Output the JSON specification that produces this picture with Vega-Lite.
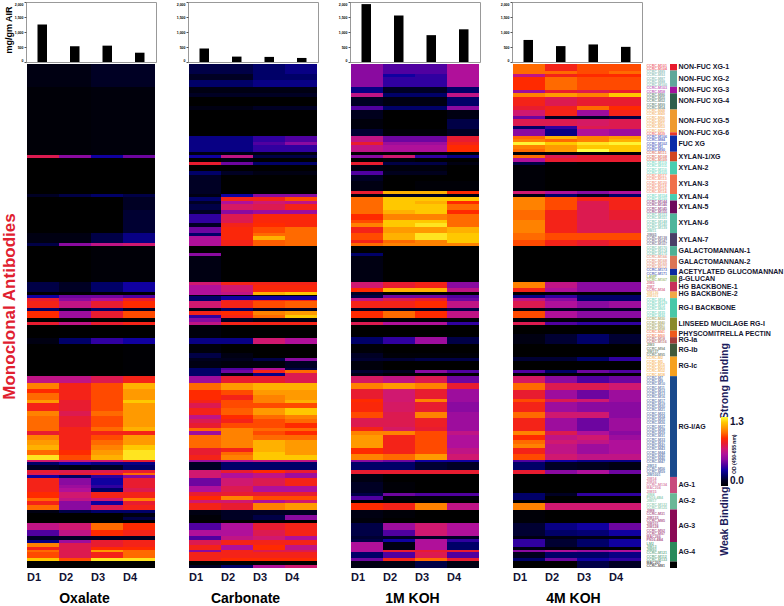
{"$schema":"https://vega.github.io/schema/vega-lite/v6.json","padding":{"left":0,"top":1,"right":0,"bottom":0},"background":"white","config":{"font":"Liberation Sans","view":{"stroke":null},"legend":{"orient":"none","legendX":695,"legendY":415,"gradientLength":69,"gradientThickness":7,"title":null,"format":".1f","labelFontSize":10,"labelFontWeight":"bold","labelColor":"#111133","labelOffset":3,"gradientStrokeWidth":0}},
"datasets":{
"bars":[{"e":"Oxalate","s":"D1","v":1250},{"e":"Oxalate","s":"D2","v":525},{"e":"Oxalate","s":"D3","v":545},{"e":"Oxalate","s":"D4","v":310},{"e":"Carbonate","s":"D1","v":450},{"e":"Carbonate","s":"D2","v":180},{"e":"Carbonate","s":"D3","v":170},{"e":"Carbonate","s":"D4","v":135},{"e":"1M KOH","s":"D1","v":1930},{"e":"1M KOH","s":"D2","v":1550},{"e":"1M KOH","s":"D3","v":895},{"e":"1M KOH","s":"D4","v":1090},{"e":"4M KOH","s":"D1","v":735},{"e":"4M KOH","s":"D2","v":530},{"e":"4M KOH","s":"D3","v":585},{"e":"4M KOH","s":"D4","v":505}],
"ox":[{"a":0,"b":7,"D1":0.05,"D2":0.05,"D3":0.1,"D4":0.1},{"a":7,"b":28,"D1":0.02,"D2":0.02,"D3":0.03,"D4":0.03},{"a":28,"b":29,"D1":0.75,"D2":0.5,"D3":0.3,"D4":0.45},{"a":29,"b":40,"D1":0,"D2":0,"D3":0,"D4":0},{"a":40,"b":41,"D1":0.1,"D2":0.15,"D3":0.2,"D4":0.15},{"a":41,"b":45,"D1":0,"D2":0,"D3":0,"D4":0.1},{"a":45,"b":52,"D1":0,"D2":0,"D3":0,"D4":0.12},{"a":52,"b":55,"D1":0.05,"D2":0.05,"D3":0.15,"D4":0.25},{"a":55,"b":56,"D1":0.15,"D2":0.5,"D3":0.65,"D4":0.7},{"a":56,"b":67,"D1":0,"D2":0,"D3":0.02,"D4":0.02},{"a":67,"b":70,"D1":0.15,"D2":0.1,"D3":0.2,"D4":0.3},{"a":70,"b":71,"D1":0,"D2":0,"D3":0,"D4":0},{"a":71,"b":72,"D1":0.3,"D2":0.45,"D3":0.45,"D4":0.4},{"a":72,"b":73,"D1":0.8,"D2":0.5,"D3":0.6,"D4":0.8},{"a":73,"b":75,"D1":0.85,"D2":0.65,"D3":0.8,"D4":0.9},{"a":75,"b":76.1,"D1":0.2,"D2":0.1,"D3":0.2,"D4":0.1},{"a":76.1,"b":78.1,"D1":0.9,"D2":0.55,"D3":0.8,"D4":0.95},{"a":78.1,"b":79.2,"D1":0,"D2":0,"D3":0,"D4":0},{"a":79.2,"b":80.2,"D1":0.8,"D2":0.65,"D3":0.8,"D4":0.85},{"a":80.2,"b":84.3,"D1":0,"D2":0,"D3":0,"D4":0},{"a":84.3,"b":86.1,"D1":0.05,"D2":0.2,"D3":0.35,"D4":0.3},{"a":86.1,"b":95.8,"D1":0,"D2":0,"D3":0,"D4":0.01},{"a":95.8,"b":98,"D1":0.65,"D2":0.65,"D3":0.75,"D4":0.85},{"a":98,"b":100.1,"D1":1.05,"D2":0.85,"D3":0.95,"D4":1.15},{"a":100.1,"b":101.2,"D1":0.9,"D2":0.85,"D3":0.95,"D4":1.1},{"a":101.2,"b":103.3,"D1":1,"D2":0.85,"D3":0.95,"D4":1.1},{"a":103.3,"b":104.3,"D1":1.1,"D2":0.8,"D3":0.95,"D4":1.2},{"a":104.3,"b":106.8,"D1":0.85,"D2":0.8,"D3":0.95,"D4":1.1},{"a":106.8,"b":108.4,"D1":1.05,"D2":0.75,"D3":1,"D4":1.1},{"a":108.4,"b":111.5,"D1":1,"D2":0.8,"D3":0.95,"D4":1.1},{"a":111.5,"b":113,"D1":1,"D2":0.85,"D3":1,"D4":1.15},{"a":113,"b":114.2,"D1":0.8,"D2":0.85,"D3":0.85,"D4":0.85},{"a":114.2,"b":115.6,"D1":1.05,"D2":0.85,"D3":0.95,"D4":1.1},{"a":115.6,"b":117.1,"D1":1.1,"D2":0.85,"D3":1,"D4":1.1},{"a":117.1,"b":118.6,"D1":1.15,"D2":0.85,"D3":1.05,"D4":1.2},{"a":118.6,"b":120.2,"D1":1,"D2":0.9,"D3":1.1,"D4":1.25},{"a":120.2,"b":121.7,"D1":1.25,"D2":0.95,"D3":1.15,"D4":1.25},{"a":121.7,"b":122.4,"D1":0.7,"D2":0.7,"D3":0.7,"D4":0.8},{"a":122.4,"b":123.2,"D1":0.2,"D2":0.3,"D3":0.25,"D4":0.25},{"a":123.2,"b":124.8,"D1":0.1,"D2":0.05,"D3":0.1,"D4":0.2},{"a":124.8,"b":125.8,"D1":0.8,"D2":0.75,"D3":0.75,"D4":0.8},{"a":125.8,"b":126.3,"D1":0.75,"D2":0.8,"D3":0.85,"D4":1},{"a":126.3,"b":127.2,"D1":0.3,"D2":0.2,"D3":0.35,"D4":0.5},{"a":127.2,"b":129.4,"D1":0.85,"D2":0.5,"D3":0.3,"D4":0.8},{"a":129.4,"b":130.4,"D1":0.85,"D2":0.55,"D3":0.35,"D4":0.8},{"a":130.4,"b":131.5,"D1":0.85,"D2":0.6,"D3":0.2,"D4":0.75},{"a":131.5,"b":133.5,"D1":0.9,"D2":0.7,"D3":0.85,"D4":0.85},{"a":133.5,"b":134.5,"D1":1,"D2":0.65,"D3":0.7,"D4":1.05},{"a":134.5,"b":135.6,"D1":0.85,"D2":0.5,"D3":0.3,"D4":0.8},{"a":135.6,"b":137.1,"D1":1,"D2":0.5,"D3":0.75,"D4":0.85},{"a":137.1,"b":138.1,"D1":0.05,"D2":0.15,"D3":0.2,"D4":0.2},{"a":138.1,"b":139.2,"D1":0,"D2":0,"D3":0,"D4":0.05},{"a":139.2,"b":140.2,"D1":0,"D2":0,"D3":0,"D4":0.15},{"a":140.2,"b":141.2,"D1":0,"D2":0,"D3":0,"D4":0},{"a":141.2,"b":143.3,"D1":0.65,"D2":0.7,"D3":1,"D4":0.9},{"a":143.3,"b":145.3,"D1":0.4,"D2":0.65,"D3":0.9,"D4":0.85},{"a":145.3,"b":146.3,"D1":0.1,"D2":0.1,"D3":0.1,"D4":0.1},{"a":146.3,"b":147.4,"D1":0.25,"D2":0.55,"D3":0.8,"D4":0.85},{"a":147.4,"b":148.4,"D1":1.05,"D2":0.75,"D3":0.8,"D4":0.85},{"a":148.4,"b":149.4,"D1":0.85,"D2":0.75,"D3":0.9,"D4":0.9},{"a":149.4,"b":150.1,"D1":1,"D2":0.75,"D3":1.1,"D4":1},{"a":150.1,"b":152,"D1":0.95,"D2":0.75,"D3":0.85,"D4":1},{"a":152,"b":153,"D1":1.2,"D2":0.95,"D3":1.25,"D4":1.25},{"a":153,"b":155,"D1":0,"D2":0,"D3":0,"D4":0}],
"ca":[{"a":0,"b":3,"D1":0.15,"D2":0.15,"D3":0.2,"D4":0.25},{"a":3,"b":5,"D1":0.1,"D2":0.1,"D3":0.2,"D4":0.2},{"a":5,"b":7,"D1":0.2,"D2":0.2,"D3":0.25,"D4":0.25},{"a":7,"b":9,"D1":0.05,"D2":0.05,"D3":0.05,"D4":0.05},{"a":9,"b":10,"D1":0.1,"D2":0.1,"D3":0.1,"D4":0.1},{"a":10,"b":13,"D1":0,"D2":0,"D3":0,"D4":0},{"a":13,"b":14,"D1":0.05,"D2":0.05,"D3":0.1,"D4":0.1},{"a":14,"b":22,"D1":0,"D2":0,"D3":0,"D4":0},{"a":22,"b":24,"D1":0.25,"D2":0.25,"D3":0.35,"D4":0.4},{"a":24,"b":25,"D1":0.25,"D2":0.25,"D3":0.4,"D4":0.5},{"a":25,"b":27,"D1":0.25,"D2":0.25,"D3":0.35,"D4":0.35},{"a":27,"b":28,"D1":0.05,"D2":0.05,"D3":0.05,"D4":0.05},{"a":28,"b":29,"D1":0.3,"D2":0.65,"D3":0.15,"D4":0.15},{"a":29,"b":30,"D1":0,"D2":0.05,"D3":0,"D4":0},{"a":30,"b":31,"D1":0.8,"D2":0.45,"D3":0.2,"D4":0.2},{"a":31,"b":33,"D1":0,"D2":0,"D3":0,"D4":0},{"a":33,"b":34,"D1":0.2,"D2":0.1,"D3":0.05,"D4":0.05},{"a":34,"b":40,"D1":0.1,"D2":0,"D3":0,"D4":0},{"a":40,"b":41,"D1":0.05,"D2":0.3,"D3":0.5,"D4":0.5},{"a":41,"b":42,"D1":0.2,"D2":0.85,"D3":0.85,"D4":0.95},{"a":42,"b":43,"D1":0.1,"D2":0.6,"D3":0.7,"D4":0.65},{"a":43,"b":45,"D1":0.15,"D2":0.72,"D3":0.75,"D4":0.85},{"a":45,"b":46,"D1":0.1,"D2":0.5,"D3":0.55,"D4":0.55},{"a":46,"b":49,"D1":0.35,"D2":0.75,"D3":0.88,"D4":0.88},{"a":49,"b":50,"D1":0.1,"D2":0.85,"D3":0.9,"D4":0.88},{"a":50,"b":52,"D1":0.45,"D2":0.88,"D3":0.95,"D4":1},{"a":52,"b":53,"D1":0.2,"D2":0.88,"D3":1,"D4":1},{"a":53,"b":54,"D1":0.6,"D2":0.88,"D3":1.15,"D4":1},{"a":54,"b":56,"D1":0.6,"D2":0.85,"D3":0.98,"D4":1},{"a":56,"b":58,"D1":0,"D2":0,"D3":0,"D4":0},{"a":58,"b":59,"D1":0.5,"D2":0,"D3":0,"D4":0},{"a":59,"b":67,"D1":0.05,"D2":0,"D3":0,"D4":0},{"a":67,"b":68,"D1":0.7,"D2":0.85,"D3":0.85,"D4":0.85},{"a":68,"b":70,"D1":0.6,"D2":0.7,"D3":0.88,"D4":0.88},{"a":70,"b":71,"D1":0.6,"D2":0.65,"D3":1.15,"D4":1.2},{"a":71,"b":71.5,"D1":0.05,"D2":0,"D3":0,"D4":0},{"a":71.5,"b":72.5,"D1":0.2,"D2":0.3,"D3":0.3,"D4":0.3},{"a":72.5,"b":73,"D1":0.2,"D2":0.8,"D3":0.85,"D4":0.85},{"a":73,"b":75,"D1":0.7,"D2":0.85,"D3":0.95,"D4":0.98},{"a":75,"b":76.1,"D1":0.05,"D2":0.2,"D3":0.1,"D4":0.1},{"a":76.1,"b":77.1,"D1":0.85,"D2":0.9,"D3":1.05,"D4":1.1},{"a":77.1,"b":78.1,"D1":0.35,"D2":0.85,"D3":1,"D4":1.2},{"a":78.1,"b":79.2,"D1":0.5,"D2":0.1,"D3":0.05,"D4":0.05},{"a":79.2,"b":80.2,"D1":0.65,"D2":0.85,"D3":0.85,"D4":0.85},{"a":80.2,"b":84.3,"D1":0.03,"D2":0,"D3":0,"D4":0},{"a":84.3,"b":86.1,"D1":0.25,"D2":0.25,"D3":0.7,"D4":0.6},{"a":86.1,"b":88.9,"D1":0.03,"D2":0,"D3":0,"D4":0},{"a":88.9,"b":90.4,"D1":0.15,"D2":0.05,"D3":0,"D4":0},{"a":90.4,"b":91.3,"D1":0.08,"D2":0.08,"D3":0.15,"D4":0.5},{"a":91.3,"b":93.5,"D1":0.05,"D2":0.03,"D3":0.03,"D4":0.1},{"a":93.5,"b":94,"D1":0.2,"D2":0.4,"D3":0.6,"D4":0.15},{"a":94,"b":95,"D1":0.2,"D2":0.45,"D3":0.85,"D4":1},{"a":95,"b":95.8,"D1":0.2,"D2":0.05,"D3":0.25,"D4":0.75},{"a":95.8,"b":98,"D1":0.55,"D2":0.8,"D3":0.8,"D4":0.75},{"a":98,"b":100.2,"D1":1,"D2":1.1,"D3":1.15,"D4":1.15},{"a":100.2,"b":101.7,"D1":0.9,"D2":0.95,"D3":1.1,"D4":1.1},{"a":101.7,"b":103.3,"D1":0.9,"D2":0.85,"D3":1.05,"D4":1.1},{"a":103.3,"b":104.3,"D1":0.85,"D2":0.95,"D3":1.05,"D4":1.15},{"a":104.3,"b":105.8,"D1":0.75,"D2":0.95,"D3":0.95,"D4":0.95},{"a":105.8,"b":107.9,"D1":0.85,"D2":0.98,"D3":1.1,"D4":1.2},{"a":107.9,"b":109.1,"D1":0.65,"D2":0.9,"D3":1,"D4":1.05},{"a":109.1,"b":110.4,"D1":0.75,"D2":0.85,"D3":0.95,"D4":1},{"a":110.4,"b":111.8,"D1":0.8,"D2":0.95,"D3":0.95,"D4":0.9},{"a":111.8,"b":113,"D1":1,"D2":1.05,"D3":1,"D4":1},{"a":113,"b":114.2,"D1":0.55,"D2":1.05,"D3":0.95,"D4":0.9},{"a":114.2,"b":115.6,"D1":1,"D2":1.05,"D3":1,"D4":1},{"a":115.6,"b":118.1,"D1":1,"D2":1.05,"D3":1.15,"D4":1.1},{"a":118.1,"b":119.2,"D1":0.8,"D2":0.85,"D3":1.15,"D4":1.1},{"a":119.2,"b":120.2,"D1":0.8,"D2":1,"D3":1.2,"D4":1.1},{"a":120.2,"b":121.7,"D1":0.85,"D2":1.05,"D3":1.2,"D4":1.2},{"a":121.7,"b":122.4,"D1":0.55,"D2":0.6,"D3":0.65,"D4":0.65},{"a":122.4,"b":124.8,"D1":0.1,"D2":0.2,"D3":0.2,"D4":0.2},{"a":124.8,"b":125.8,"D1":0.7,"D2":0.8,"D3":0.9,"D4":0.8},{"a":125.8,"b":127.2,"D1":0.7,"D2":0.6,"D3":0.65,"D4":0.55},{"a":127.2,"b":129.9,"D1":0.45,"D2":0.7,"D3":0.75,"D4":0.85},{"a":129.9,"b":131.5,"D1":0.6,"D2":0.75,"D3":0.6,"D4":0.6},{"a":131.5,"b":133,"D1":0.8,"D2":0.8,"D3":0.8,"D4":0.8},{"a":133,"b":134,"D1":0.9,"D2":1.05,"D3":0.95,"D4":0.95},{"a":134,"b":135,"D1":0.7,"D2":0.7,"D3":0.6,"D4":0.7},{"a":135,"b":137.1,"D1":0.85,"D2":0.8,"D3":1.05,"D4":1.1},{"a":137.1,"b":138.6,"D1":0.05,"D2":0.1,"D3":0.1,"D4":0.1},{"a":138.6,"b":140.2,"D1":0.02,"D2":0.1,"D3":0.15,"D4":0.5},{"a":140.2,"b":141.2,"D1":0,"D2":0,"D3":0,"D4":0},{"a":141.2,"b":143.3,"D1":0.4,"D2":0.6,"D3":0.8,"D4":0.85},{"a":143.3,"b":145.3,"D1":0.6,"D2":0.6,"D3":0.75,"D4":0.85},{"a":145.3,"b":146.3,"D1":0.4,"D2":0.65,"D3":0.7,"D4":0.6},{"a":146.3,"b":147.9,"D1":0.75,"D2":0.85,"D3":0.85,"D4":0.85},{"a":147.9,"b":149.4,"D1":0.85,"D2":0.6,"D3":0.9,"D4":0.65},{"a":149.4,"b":150.1,"D1":0.5,"D2":0.85,"D3":0.75,"D4":0.75},{"a":150.1,"b":152,"D1":0.85,"D2":0.85,"D3":0.85,"D4":0.85},{"a":152,"b":153,"D1":0.85,"D2":0.9,"D3":0.9,"D4":0.9},{"a":153,"b":154,"D1":0,"D2":0,"D3":0,"D4":0},{"a":154,"b":155,"D1":0.1,"D2":0.2,"D3":0.6,"D4":0.7}],
"k1":[{"a":0,"b":3,"D1":0.5,"D2":0.4,"D3":0.4,"D4":0.6},{"a":3,"b":4,"D1":0.5,"D2":0.3,"D3":0.35,"D4":0.6},{"a":4,"b":7,"D1":0.5,"D2":0.35,"D3":0.35,"D4":0.6},{"a":7,"b":9,"D1":0.25,"D2":0.1,"D3":0.1,"D4":0.2},{"a":9,"b":10,"D1":0.65,"D2":0.2,"D3":0.2,"D4":0.65},{"a":10,"b":13,"D1":0.1,"D2":0.05,"D3":0.05,"D4":0.2},{"a":13,"b":14,"D1":0.4,"D2":0.2,"D3":0.2,"D4":0.5},{"a":14,"b":17,"D1":0.08,"D2":0,"D3":0,"D4":0.05},{"a":17,"b":20,"D1":0.03,"D2":0,"D3":0,"D4":0.15},{"a":20,"b":22,"D1":0.12,"D2":0.02,"D3":0.02,"D4":0.1},{"a":22,"b":24,"D1":0.65,"D2":0.45,"D3":0.45,"D4":0.8},{"a":24,"b":25,"D1":0.8,"D2":0.55,"D3":0.55,"D4":0.85},{"a":25,"b":27,"D1":0.65,"D2":0.6,"D3":0.6,"D4":0.9},{"a":27,"b":28,"D1":0,"D2":0,"D3":0,"D4":0},{"a":28,"b":29,"D1":0.5,"D2":0.7,"D3":0.35,"D4":0.25},{"a":29,"b":30,"D1":0,"D2":0.03,"D3":0,"D4":0},{"a":30,"b":31,"D1":0.8,"D2":0.15,"D3":0.15,"D4":0.05},{"a":31,"b":33,"D1":0.05,"D2":0.03,"D3":0.03,"D4":0},{"a":33,"b":34,"D1":0.4,"D2":0.08,"D3":0.08,"D4":0},{"a":34,"b":36,"D1":0.1,"D2":0,"D3":0,"D4":0},{"a":36,"b":39,"D1":0.05,"D2":0,"D3":0.02,"D4":0.02},{"a":39,"b":40,"D1":0.8,"D2":1.15,"D3":1.15,"D4":0.9},{"a":40,"b":41,"D1":0.03,"D2":0.1,"D3":0.1,"D4":0.05},{"a":41,"b":42,"D1":1,"D2":1.2,"D3":1.2,"D4":1.2},{"a":42,"b":43,"D1":1,"D2":1.2,"D3":1.15,"D4":0.9},{"a":43,"b":45,"D1":1,"D2":1.2,"D3":1.2,"D4":1},{"a":45,"b":46,"D1":1,"D2":1.15,"D3":1.2,"D4":0.9},{"a":46,"b":48,"D1":0.9,"D2":1.05,"D3":1.05,"D4":1},{"a":48,"b":49,"D1":0.95,"D2":1.2,"D3":1.2,"D4":1},{"a":49,"b":50,"D1":1.05,"D2":1.2,"D3":1.25,"D4":1},{"a":50,"b":52,"D1":0.85,"D2":1.1,"D3":1.1,"D4":1.15},{"a":52,"b":54,"D1":0.95,"D2":1.15,"D3":1.25,"D4":1.2},{"a":54,"b":55,"D1":0.85,"D2":1,"D3":1.05,"D4":1.2},{"a":55,"b":56,"D1":1,"D2":1.05,"D3":1.05,"D4":1.05},{"a":56,"b":58,"D1":0,"D2":0,"D3":0,"D4":0},{"a":58,"b":59,"D1":0.2,"D2":0,"D3":0,"D4":0},{"a":59,"b":67,"D1":0.05,"D2":0,"D3":0,"D4":0},{"a":67,"b":69,"D1":0.7,"D2":0.8,"D3":0.85,"D4":0.5},{"a":69,"b":70,"D1":0.9,"D2":1.15,"D3":1.15,"D4":0.65},{"a":70,"b":71,"D1":0.1,"D2":0,"D3":0,"D4":0},{"a":71,"b":72,"D1":0.15,"D2":0.45,"D3":0.45,"D4":0.4},{"a":72,"b":73,"D1":0.65,"D2":0.75,"D3":0.8,"D4":0.45},{"a":73,"b":75,"D1":0.85,"D2":0.85,"D3":0.9,"D4":0.65},{"a":75,"b":76.1,"D1":0.1,"D2":0.1,"D3":0.1,"D4":0.15},{"a":76.1,"b":78.1,"D1":0.9,"D2":1,"D3":0.9,"D4":0.65},{"a":78.1,"b":79.2,"D1":0.02,"D2":0.02,"D3":0.02,"D4":0.02},{"a":79.2,"b":80.2,"D1":0.75,"D2":0.6,"D3":0.6,"D4":0.35},{"a":80.2,"b":84.1,"D1":0,"D2":0,"D3":0,"D4":0},{"a":84.1,"b":86.1,"D1":0.2,"D2":0.35,"D3":0.55,"D4":0.15},{"a":86.1,"b":88.9,"D1":0.02,"D2":0,"D3":0,"D4":0},{"a":88.9,"b":90.4,"D1":0.1,"D2":0.02,"D3":0.02,"D4":0.02},{"a":90.4,"b":91.3,"D1":0.12,"D2":0.12,"D3":0.15,"D4":0.15},{"a":91.3,"b":94,"D1":0.03,"D2":0,"D3":0,"D4":0},{"a":94,"b":95,"D1":0.12,"D2":0.1,"D3":0.5,"D4":0.4},{"a":95,"b":96.1,"D1":0.05,"D2":0,"D3":0,"D4":0},{"a":96.1,"b":98.1,"D1":0.72,"D2":0.65,"D3":0.75,"D4":0.45},{"a":98.1,"b":99.9,"D1":1.05,"D2":1.1,"D3":1.05,"D4":0.8},{"a":99.9,"b":103,"D1":0.8,"D2":0.7,"D3":0.8,"D4":0.55},{"a":103,"b":104.1,"D1":0.9,"D2":0.7,"D3":1.05,"D4":0.55},{"a":104.1,"b":107,"D1":0.88,"D2":0.72,"D3":0.8,"D4":0.5},{"a":107,"b":108.9,"D1":0.95,"D2":0.75,"D3":1.05,"D4":0.55},{"a":108.9,"b":111.5,"D1":0.75,"D2":0.75,"D3":0.82,"D4":0.55},{"a":111.5,"b":113,"D1":0.85,"D2":0.72,"D3":0.8,"D4":0.55},{"a":113,"b":114.2,"D1":1.05,"D2":1.05,"D3":0.95,"D4":0.65},{"a":114.2,"b":118.1,"D1":1.1,"D2":0.85,"D3":0.95,"D4":0.6},{"a":118.1,"b":120,"D1":0.9,"D2":0.85,"D3":0.95,"D4":0.65},{"a":120,"b":121.7,"D1":1.05,"D2":1,"D3":1.1,"D4":0.7},{"a":121.7,"b":122.4,"D1":0.5,"D2":0.45,"D3":0.3,"D4":0.3},{"a":122.4,"b":124.8,"D1":0.2,"D2":0.2,"D3":0.12,"D4":0.1},{"a":124.8,"b":126,"D1":0.8,"D2":0.8,"D3":0.8,"D4":0.8},{"a":126,"b":128.4,"D1":0.05,"D2":0,"D3":0,"D4":0},{"a":128.4,"b":132,"D1":0.1,"D2":0.02,"D3":0,"D4":0},{"a":132,"b":133,"D1":0.15,"D2":0.45,"D3":0.4,"D4":0.4},{"a":133,"b":134.2,"D1":0.4,"D2":0.03,"D3":0.03,"D4":0.03},{"a":134.2,"b":135,"D1":0,"D2":0,"D3":0,"D4":0},{"a":135,"b":137.1,"D1":0.9,"D2":0.85,"D3":1.05,"D4":0.65},{"a":137.1,"b":139.7,"D1":0.05,"D2":0.02,"D3":0,"D4":0},{"a":139.7,"b":141.2,"D1":0.03,"D2":0,"D3":0,"D4":0},{"a":141.2,"b":143.3,"D1":0.15,"D2":0.55,"D3":0.7,"D4":0.6},{"a":143.3,"b":145.3,"D1":0.15,"D2":0.4,"D3":0.7,"D4":0.6},{"a":145.3,"b":146,"D1":0.12,"D2":0.1,"D3":0.1,"D4":0.1},{"a":146,"b":147.1,"D1":0.15,"D2":0.3,"D3":0.6,"D4":0.35},{"a":147.1,"b":149.4,"D1":0.6,"D2":0.05,"D3":0.6,"D4":0.2},{"a":149.4,"b":150.1,"D1":0.6,"D2":0.8,"D3":0.8,"D4":0.8},{"a":150.1,"b":152,"D1":0.2,"D2":0.4,"D3":0.75,"D4":0.4},{"a":152,"b":153,"D1":0.45,"D2":0.85,"D3":1,"D4":0.8},{"a":153,"b":155,"D1":0.05,"D2":0.05,"D3":0.15,"D4":0.05}],
"k4":[{"a":0,"b":2,"D1":1,"D2":0.85,"D3":0.95,"D4":0.95},{"a":2,"b":3,"D1":1,"D2":1,"D3":0.95,"D4":1},{"a":3,"b":4,"D1":0.65,"D2":0.85,"D3":0.9,"D4":0.9},{"a":4,"b":8,"D1":0.9,"D2":1,"D3":0.95,"D4":0.95},{"a":8,"b":9,"D1":0.55,"D2":0.8,"D3":0.75,"D4":0.8},{"a":9,"b":10,"D1":1.05,"D2":1.1,"D3":1.05,"D4":1.2},{"a":10,"b":13,"D1":0.85,"D2":0.75,"D3":0.8,"D4":0.8},{"a":13,"b":14,"D1":0.8,"D2":0.85,"D3":1,"D4":0.9},{"a":14,"b":16,"D1":0.7,"D2":0.85,"D3":0.55,"D4":0.85},{"a":16,"b":17,"D1":0.45,"D2":0.1,"D3":0.1,"D4":0.15},{"a":17,"b":19,"D1":0.75,"D2":0.75,"D3":0.72,"D4":0.75},{"a":19,"b":20,"D1":0.2,"D2":0.35,"D3":0.75,"D4":0.75},{"a":20,"b":22,"D1":0.5,"D2":0.25,"D3":0.6,"D4":0.55},{"a":22,"b":23,"D1":1,"D2":1.15,"D3":1.05,"D4":1.1},{"a":23,"b":24,"D1":1.05,"D2":1,"D3":1.05,"D4":1.15},{"a":24,"b":25,"D1":1.28,"D2":1.2,"D3":1.25,"D4":1.28},{"a":25,"b":26,"D1":1.05,"D2":1.1,"D3":1.2,"D4":1.2},{"a":26,"b":27,"D1":1,"D2":1.1,"D3":1.3,"D4":1.2},{"a":27,"b":28,"D1":0.02,"D2":0.02,"D3":0.02,"D4":0.02},{"a":28,"b":29,"D1":1,"D2":0.75,"D3":0.8,"D4":0.8},{"a":29,"b":30,"D1":0.6,"D2":0.8,"D3":0.8,"D4":0.8},{"a":30,"b":31,"D1":0.15,"D2":0.02,"D3":0,"D4":0},{"a":31,"b":39,"D1":0.02,"D2":0,"D3":0,"D4":0},{"a":39,"b":40,"D1":0.7,"D2":0.6,"D3":0.5,"D4":0.6},{"a":40,"b":41,"D1":0.05,"D2":0.2,"D3":0.1,"D4":0.2},{"a":41,"b":42,"D1":1.05,"D2":0.95,"D3":0.85,"D4":0.85},{"a":42,"b":45,"D1":1.05,"D2":0.95,"D3":0.75,"D4":0.85},{"a":45,"b":48,"D1":1,"D2":0.85,"D3":0.75,"D4":0.8},{"a":48,"b":52,"D1":1.05,"D2":0.85,"D3":0.75,"D4":0.75},{"a":52,"b":54,"D1":1,"D2":0.95,"D3":0.95,"D4":0.95},{"a":54,"b":56,"D1":0.95,"D2":0.85,"D3":0.8,"D4":0.85},{"a":56,"b":67,"D1":0,"D2":0,"D3":0,"D4":0},{"a":67,"b":69,"D1":1.05,"D2":0.65,"D3":0.5,"D4":0.5},{"a":69,"b":70,"D1":0.85,"D2":0.6,"D3":0.5,"D4":0.5},{"a":70,"b":71,"D1":0,"D2":0,"D3":0,"D4":0},{"a":71,"b":72,"D1":0.25,"D2":0.35,"D3":0.2,"D4":0.2},{"a":72,"b":73,"D1":0.65,"D2":0.5,"D3":0.2,"D4":0.2},{"a":73,"b":75,"D1":0.75,"D2":0.6,"D3":0.5,"D4":0.55},{"a":75,"b":76.1,"D1":0.05,"D2":0.1,"D3":0.1,"D4":0.1},{"a":76.1,"b":78.1,"D1":0.95,"D2":0.6,"D3":0.5,"D4":0.5},{"a":78.1,"b":79.2,"D1":0.02,"D2":0.02,"D3":0.02,"D4":0.02},{"a":79.2,"b":80.2,"D1":0.75,"D2":0.4,"D3":0.35,"D4":0.35},{"a":80.2,"b":83,"D1":0,"D2":0,"D3":0,"D4":0},{"a":83,"b":86.1,"D1":0.05,"D2":0.12,"D3":0.2,"D4":0.12},{"a":86.1,"b":90,"D1":0,"D2":0,"D3":0,"D4":0},{"a":90,"b":91.3,"D1":0.12,"D2":0.12,"D3":0.2,"D4":0.35},{"a":91.3,"b":94,"D1":0,"D2":0,"D3":0,"D4":0},{"a":94,"b":95,"D1":0.4,"D2":0.2,"D3":0.45,"D4":0.4},{"a":95,"b":96.1,"D1":0,"D2":0,"D3":0,"D4":0},{"a":96.1,"b":98.1,"D1":0.72,"D2":0.5,"D3":0.4,"D4":0.45},{"a":98.1,"b":100.2,"D1":1,"D2":0.75,"D3":0.75,"D4":0.7},{"a":100.2,"b":103,"D1":0.8,"D2":0.55,"D3":0.45,"D4":0.55},{"a":103,"b":104.1,"D1":0.95,"D2":0.75,"D3":0.7,"D4":0.55},{"a":104.1,"b":107,"D1":0.85,"D2":0.55,"D3":0.5,"D4":0.5},{"a":107,"b":108.9,"D1":1,"D2":0.7,"D3":0.7,"D4":0.5},{"a":108.9,"b":113,"D1":0.85,"D2":0.55,"D3":0.45,"D4":0.55},{"a":113,"b":114.2,"D1":1.05,"D2":0.75,"D3":0.6,"D4":0.5},{"a":114.2,"b":115.6,"D1":0.9,"D2":0.65,"D3":0.7,"D4":0.55},{"a":115.6,"b":116.8,"D1":1,"D2":0.7,"D3":0.65,"D4":0.6},{"a":116.8,"b":118.1,"D1":1.05,"D2":0.65,"D3":0.55,"D4":0.6},{"a":118.1,"b":120,"D1":0.85,"D2":0.65,"D3":0.55,"D4":0.6},{"a":120,"b":121.7,"D1":0.95,"D2":0.7,"D3":0.65,"D4":0.65},{"a":121.7,"b":122.4,"D1":0.4,"D2":0.3,"D3":0.25,"D4":0.25},{"a":122.4,"b":124.8,"D1":0.2,"D2":0.1,"D3":0.08,"D4":0.05},{"a":124.8,"b":126,"D1":0.8,"D2":0.5,"D3":0.6,"D4":0.45},{"a":126,"b":132,"D1":0,"D2":0,"D3":0,"D4":0},{"a":132,"b":133,"D1":0.2,"D2":0.1,"D3":0.35,"D4":0.35},{"a":133,"b":134.2,"D1":0.2,"D2":0,"D3":0,"D4":0},{"a":134.2,"b":135,"D1":0,"D2":0,"D3":0,"D4":0},{"a":135,"b":137.1,"D1":1.05,"D2":0.7,"D3":0.7,"D4":0.7},{"a":137.1,"b":141.2,"D1":0.02,"D2":0,"D3":0,"D4":0},{"a":141.2,"b":143.3,"D1":0.12,"D2":0.25,"D3":0.3,"D4":0.45},{"a":143.3,"b":145.3,"D1":0.12,"D2":0.2,"D3":0.22,"D4":0.3},{"a":145.3,"b":146,"D1":0.05,"D2":0.05,"D3":0.05,"D4":0.05},{"a":146,"b":148.4,"D1":0.35,"D2":0.12,"D3":0.2,"D4":0.3},{"a":148.4,"b":149.4,"D1":0.05,"D2":0.02,"D3":0.02,"D4":0.02},{"a":149.4,"b":150.1,"D1":0.5,"D2":0.6,"D3":0.55,"D4":0.6},{"a":150.1,"b":152,"D1":0.08,"D2":0.2,"D3":0.2,"D4":0.25},{"a":152,"b":153,"D1":0.2,"D2":0.45,"D3":0.3,"D4":0.35},{"a":153,"b":155,"D1":0,"D2":0,"D3":0.15,"D4":0.1}],
"groups":[{"g":1,"a":0,"b":2,"m":1,"t":"NON-FUC XG-1"},{"g":2,"a":2,"b":7,"m":4.5,"t":"NON-FUC XG-2"},{"g":3,"a":7,"b":9,"m":8,"t":"NON-FUC XG-3"},{"g":4,"a":9,"b":14,"m":11.5,"t":"NON-FUC XG-4"},{"g":5,"a":14,"b":21,"m":17.5,"t":"NON-FUC XG-5"},{"g":6,"a":21,"b":22,"m":21.3,"t":"NON-FUC XG-6"},{"g":7,"a":22,"b":27,"m":24.5,"t":"FUC XG"},{"g":8,"a":27,"b":30,"m":28.5,"t":"XYLAN-1/XG"},{"g":9,"a":30,"b":34,"m":32,"t":"XYLAN-2"},{"g":10,"a":34,"b":40,"m":37,"t":"XYLAN-3"},{"g":11,"a":40,"b":42,"m":41,"t":"XYLAN-4"},{"g":12,"a":42,"b":46,"m":44,"t":"XYLAN-5"},{"g":13,"a":46,"b":52,"m":49,"t":"XYLAN-6"},{"g":14,"a":52,"b":56,"m":54,"t":"XYLAN-7"},{"g":15,"a":56,"b":59,"m":57.5,"t":"GALACTOMANNAN-1"},{"g":16,"a":59,"b":63,"m":61,"t":"GALACTOMANNAN-2"},{"g":17,"a":63,"b":65,"m":64,"t":"ACETYLATED GLUCOMANNAN"},{"g":18,"a":65,"b":67,"m":66,"t":"β-GLUCAN"},{"g":19,"a":67,"b":70,"m":68.5,"t":"HG BACKBONE-1"},{"g":20,"a":70,"b":72,"m":70.8,"t":"HG BACKBONE-2"},{"g":21,"a":72,"b":78,"m":75,"t":"RG-I BACKBONE"},{"g":22,"a":78,"b":82,"m":80,"t":"LINSEED MUCILAGE RG-I"},{"g":23,"a":82,"b":84,"m":83,"t":"PHYSCOMITRELLA PECTIN"},{"g":24,"a":84,"b":86,"m":85,"t":"RG-Ia"},{"g":25,"a":86,"b":90,"m":88,"t":"RG-Ib"},{"g":26,"a":90,"b":96,"m":93,"t":"RG-Ic"},{"g":27,"a":96,"b":127,"m":111.5,"t":"RG-I/AG"},{"g":28,"a":127,"b":132,"m":129.5,"t":"AG-1"},{"g":29,"a":132,"b":137,"m":134.5,"t":"AG-2"},{"g":30,"a":137,"b":147,"m":142,"t":"AG-3"},{"g":31,"a":147,"b":153,"m":150,"t":"AG-4"},{"g":32,"a":153,"b":155}],
"notes":[{"r":97.5,"t":"Strong Binding"},{"r":140.6,"t":"Weak Binding"}],
"mabs":[{"r":0.5,"g":1,"n":"CCRC-M101"},{"r":1.5,"g":1,"n":"CCRC-M104"},{"r":2.5,"g":2,"n":"CCRC-M89"},{"r":3.5,"g":2,"n":"CCRC-M93"},{"r":4.5,"g":2,"n":"CCRC-M87"},{"r":5.5,"g":2,"n":"CCRC-M88"},{"r":6.5,"g":2,"n":"CCRC-M100"},{"r":7.5,"g":3,"n":"CCRC-M103"},{"r":8.5,"g":3,"n":"CCRC-M58"},{"r":9.5,"g":4,"n":"CCRC-M86"},{"r":10.5,"g":4,"n":"CCRC-M55"},{"r":11.5,"g":4,"n":"CCRC-M52"},{"r":12.5,"g":4,"n":"CCRC-M99"},{"r":13.5,"g":4,"n":"CCRC-M54"},{"r":14.5,"g":5,"n":"CCRC-M48"},{"r":15.5,"g":5,"n":"CCRC-M49"},{"r":16.5,"g":5,"n":"CCRC-M96"},{"r":17.5,"g":5,"n":"CCRC-M50"},{"r":18.5,"g":5,"n":"CCRC-M51"},{"r":19.5,"g":5,"n":"CCRC-M53"},{"r":20.5,"g":5,"n":"CCRC-M57"},{"r":21.5,"g":6,"n":"CCRC-M39"},{"r":22.5,"g":7,"n":"CCRC-M106"},{"r":23.5,"g":7,"n":"CCRC-M84"},{"r":24.5,"g":7,"n":"CCRC-M102"},{"r":25.5,"g":7,"n":"CCRC-M1"},{"r":26.5,"g":7,"n":"CCRC-M90"},{"r":27.5,"g":8,"n":"CCRC-M111"},{"r":28.5,"g":8,"n":"CCRC-M108"},{"r":29.5,"g":8,"n":"CCRC-M109"},{"r":30.5,"g":9,"n":"CCRC-M119"},{"r":31.5,"g":9,"n":"CCRC-M115"},{"r":32.5,"g":9,"n":"CCRC-M110"},{"r":33.5,"g":9,"n":"CCRC-M105"},{"r":34.5,"g":10,"n":"CCRC-M117"},{"r":35.5,"g":10,"n":"CCRC-M113"},{"r":36.5,"g":10,"n":"CCRC-M120"},{"r":37.5,"g":10,"n":"CCRC-M118"},{"r":38.5,"g":10,"n":"CCRC-M116"},{"r":39.5,"g":10,"n":"CCRC-M114"},{"r":40.5,"g":11,"n":"CCRC-M154"},{"r":41.5,"g":11,"n":"CCRC-M150"},{"r":42.5,"g":12,"n":"CCRC-M144"},{"r":43.5,"g":12,"n":"CCRC-M146"},{"r":44.5,"g":12,"n":"CCRC-M145"},{"r":45.5,"g":12,"n":"CCRC-M155"},{"r":46.5,"g":13,"n":"CCRC-M153"},{"r":47.5,"g":13,"n":"CCRC-M151"},{"r":48.5,"g":13,"n":"CCRC-M148"},{"r":49.5,"g":13,"n":"CCRC-M140"},{"r":50.5,"g":13,"n":"CCRC-M139"},{"r":51.5,"g":13,"n":"JIM11"},{"r":52.5,"g":14,"n":"JIM65"},{"r":53.5,"g":14,"n":"CCRC-M138"},{"r":54.5,"g":14,"n":"CCRC-M147"},{"r":55.5,"g":14,"n":"CCRC-M107"},{"r":56.5,"g":15,"n":"CCRC-M170"},{"r":57.5,"g":15,"n":"CCRC-M174"},{"r":58.5,"g":15,"n":"CCRC-M175"},{"r":59.5,"g":16,"n":"CCRC-M166"},{"r":60.5,"g":16,"n":"CCRC-M168"},{"r":61.5,"g":16,"n":"CCRC-M169"},{"r":62.5,"g":16,"n":"CCRC-M172"},{"r":63.5,"g":17,"n":"CCRC-M173"},{"r":64.5,"g":17,"n":"CCRC-M171"},{"r":65.5,"g":18,"n":"LAMP"},{"r":66.5,"g":18,"n":"CCRC-M167"},{"r":67.5,"g":19,"n":"JIM5"},{"r":68.5,"g":19,"n":"JIM7"},{"r":69.5,"g":19,"n":"CCRC-M34"},{"r":70.5,"g":20,"n":"JIM136"},{"r":71.5,"g":20,"n":"JIM101"},{"r":72.5,"g":21,"n":"CCRC-M14"},{"r":73.5,"g":21,"n":"CCRC-M129"},{"r":74.5,"g":21,"n":"CCRC-M72"},{"r":75.5,"g":21,"n":"CCRC-M69"},{"r":76.5,"g":21,"n":"CCRC-M35"},{"r":77.5,"g":21,"n":"CCRC-M36"},{"r":78.5,"g":22,"n":"CCRC-M30"},{"r":79.5,"g":22,"n":"CCRC-M40"},{"r":80.5,"g":22,"n":"CCRC-M61"},{"r":81.5,"g":22,"n":"CCRC-M98"},{"r":82.5,"g":23,"n":"CCRC-M41"},{"r":83.5,"g":23,"n":"CCRC-M60"},{"r":84.5,"g":24,"n":"CCRC-M18"},{"r":85.5,"g":24,"n":"CCRC-M116"},{"r":86.5,"g":25,"n":"JIM3"},{"r":87.5,"g":25,"n":"CCRC-M94"},{"r":88.5,"g":25,"n":"JIM137"},{"r":89.5,"g":25,"n":"CCRC-M95"},{"r":90.5,"g":26,"n":"CCRC-M2"},{"r":91.5,"g":26,"n":"CCRC-M5"},{"r":92.5,"g":26,"n":"CCRC-M15"},{"r":93.5,"g":26,"n":"CCRC-M23"},{"r":94.5,"g":26,"n":"CCRC-M32"},{"r":95.5,"g":26,"n":"CCRC-M38"},{"r":96.5,"g":27,"n":"CCRC-M7"},{"r":97.5,"g":27,"n":"CCRC-M9"},{"r":98.5,"g":27,"n":"CCRC-M10"},{"r":99.5,"g":27,"n":"CCRC-M11"},{"r":100.5,"g":27,"n":"CCRC-M12"},{"r":101.5,"g":27,"n":"CCRC-M13"},{"r":102.5,"g":27,"n":"CCRC-M16"},{"r":103.5,"g":27,"n":"CCRC-M17"},{"r":104.5,"g":27,"n":"CCRC-M19"},{"r":105.5,"g":27,"n":"CCRC-M20"},{"r":106.5,"g":27,"n":"CCRC-M21"},{"r":107.5,"g":27,"n":"CCRC-M22"},{"r":108.5,"g":27,"n":"CCRC-M24"},{"r":109.5,"g":27,"n":"CCRC-M25"},{"r":110.5,"g":27,"n":"CCRC-M26"},{"r":111.5,"g":27,"n":"CCRC-M27"},{"r":112.5,"g":27,"n":"CCRC-M28"},{"r":113.5,"g":27,"n":"CCRC-M29"},{"r":114.5,"g":27,"n":"CCRC-M31"},{"r":115.5,"g":27,"n":"CCRC-M33"},{"r":116.5,"g":27,"n":"CCRC-M37"},{"r":117.5,"g":27,"n":"CCRC-M42"},{"r":118.5,"g":27,"n":"CCRC-M43"},{"r":119.5,"g":27,"n":"CCRC-M44"},{"r":120.5,"g":27,"n":"CCRC-M45"},{"r":121.5,"g":27,"n":"CCRC-M46"},{"r":122.5,"g":27,"n":"CCRC-M47"},{"r":123.5,"g":27,"n":"JIM13"},{"r":124.5,"g":27,"n":"CCRC-M56"},{"r":125.5,"g":27,"n":"CCRC-M59"},{"r":126.5,"g":27,"n":"JIM1001"},{"r":127.5,"g":28,"n":"JIM14"},{"r":128.5,"g":28,"n":"JIM16"},{"r":129.5,"g":28,"n":"CCRC-M134"},{"r":130.5,"g":28,"n":"MAC204"},{"r":131.5,"g":28,"n":"JIM15"},{"r":132.5,"g":29,"n":"JIM4"},{"r":133.5,"g":29,"n":"PN16.4B4"},{"r":134.5,"g":29,"n":"JIM17"},{"r":135.5,"g":29,"n":"CCRC-M122"},{"r":136.5,"g":29,"n":"CCRC-M125"},{"r":137.5,"g":30,"n":"JIM8"},{"r":138.5,"g":30,"n":"CCRC-M31"},{"r":139.5,"g":30,"n":"JIM133"},{"r":140.5,"g":30,"n":"CCRC-M85"},{"r":141.5,"g":30,"n":"JIM101"},{"r":142.5,"g":30,"n":"JIM128"},{"r":143.5,"g":30,"n":"CCRC-M92"},{"r":144.5,"g":30,"n":"CCRC-M97"},{"r":145.5,"g":30,"n":"MAC266"},{"r":146.5,"g":30,"n":"PN16.4B4"},{"r":147.5,"g":31,"n":"LM2"},{"r":148.5,"g":31,"n":"JIM13"},{"r":149.5,"g":31,"n":"JIM93"},{"r":150.5,"g":31,"n":"CCRC-M121"},{"r":151.5,"g":31,"n":"CCRC-M112"},{"r":152.5,"g":31,"n":"CCRC-M133"},{"r":153.5,"g":32,"n":"MAC207"},{"r":154.5,"g":32,"n":"CCRC-M81"}]
},
"bounds":"flush","columns":5,"spacing":{"row":2,"column":32},
"concat":[
{"width":130,"height":60,"view":{"stroke":"#999999"},"data":{"name":"bars"},"transform":[{"filter":"datum.e==='Oxalate'"}],"mark":{"type":"bar","size":9.5,"color":"#000000"},"encoding":{"x":{"field":"s","type":"nominal","axis":null,"scale":{"paddingInner":0,"paddingOuter":0}},"y":{"field":"v","type":"quantitative","scale":{"domain":[0,2000],"nice":false},"axis":{"values":[0,500,1000,1500,2000],"grid":false,"domain":false,"tickSize":2,"tickColor":"#555","labelFontSize":3.5,"labelFontWeight":"bold","labelPadding":1,"labelFlush":true,"title":"mg/gm AIR","titleFontSize":9,"titleFontWeight":"bold","titleColor":"#000","titleBaseline":"alphabetic","titleX":-14.5,"titleY":27.5}}}},
{"width":130,"height":60,"view":{"stroke":"#999999"},"data":{"name":"bars"},"transform":[{"filter":"datum.e==='Carbonate'"}],"mark":{"type":"bar","size":9.5,"color":"#000000"},"encoding":{"x":{"field":"s","type":"nominal","axis":null,"scale":{"paddingInner":0,"paddingOuter":0}},"y":{"field":"v","type":"quantitative","scale":{"domain":[0,2000],"nice":false},"axis":{"values":[0,500,1000,1500,2000],"grid":false,"domain":false,"tickSize":2,"tickColor":"#555","labelFontSize":3.5,"labelFontWeight":"bold","labelPadding":1,"labelFlush":true,"title":null}}}},
{"width":130,"height":60,"view":{"stroke":"#999999"},"data":{"name":"bars"},"transform":[{"filter":"datum.e==='1M KOH'"}],"mark":{"type":"bar","size":9.5,"color":"#000000"},"encoding":{"x":{"field":"s","type":"nominal","axis":null,"scale":{"paddingInner":0,"paddingOuter":0}},"y":{"field":"v","type":"quantitative","scale":{"domain":[0,2000],"nice":false},"axis":{"values":[0,500,1000,1500,2000],"grid":false,"domain":false,"tickSize":2,"tickColor":"#555","labelFontSize":3.5,"labelFontWeight":"bold","labelPadding":1,"labelFlush":true,"title":null}}}},
{"width":130,"height":60,"view":{"stroke":"#999999"},"data":{"name":"bars"},"transform":[{"filter":"datum.e==='4M KOH'"}],"mark":{"type":"bar","size":9.5,"color":"#000000"},"encoding":{"x":{"field":"s","type":"nominal","axis":null,"scale":{"paddingInner":0,"paddingOuter":0}},"y":{"field":"v","type":"quantitative","scale":{"domain":[0,2000],"nice":false},"axis":{"values":[0,500,1000,1500,2000],"grid":false,"domain":false,"tickSize":2,"tickColor":"#555","labelFontSize":3.5,"labelFontWeight":"bold","labelPadding":1,"labelFlush":true,"title":null}}}},
{"width":109.5,"height":60,"data":{"values":[]},"mark":"rect","encoding":{}},
{"width":130,"height":504,"data":{"name":"ox"},"transform":[{"fold":["D1","D2","D3","D4"],"as":["s","od"]}],"mark":{"type":"rect"},"encoding":{"x":{"field":"s","type":"nominal","scale":{"paddingInner":0,"paddingOuter":0,"round":true},"axis":{"labelAngle":0,"labelAlign":"left","labelOffset":-16,"labelPadding":3,"domain":false,"ticks":false,"labelFontSize":11,"labelFontWeight":"bold","labelColor":"#111133","title":"Oxalate","titleFontSize":14,"titleFontWeight":"bold","titleColor":"#000","titleBaseline":"middle","titleX":58,"titleY":30}},"y":{"field":"a","type":"quantitative","scale":{"domain":[0,155],"reverse":true,"nice":false,"zero":false,"round":true},"axis":{"labels":false,"ticks":false,"domain":false,"grid":false,"title":"Monoclonal Antibodies","titleFontSize":17,"titleFontWeight":"bold","titleColor":"#e0202f","titleBaseline":"alphabetic","titleX":-11.5,"titleY":242}},"y2":{"field":"b"},"color":{"field":"od","type":"quantitative","legend":{"values":[0,1.3]},"scale":{"interpolate":"rgb","domain":[0,0.1,0.2,0.3,0.4,0.5,0.6,0.7,0.8,0.9,1,1.1,1.2,1.3],"range":["#000000","#000024","#000068","#1000a0","#5000a0","#8a0aa0","#b0109a","#d01870","#e81c30","#ff2a00","#ff6a00","#ff9a00","#ffc800","#ffff40"]}}}},
{"width":130,"height":504,"data":{"name":"ca"},"transform":[{"fold":["D1","D2","D3","D4"],"as":["s","od"]}],"mark":{"type":"rect"},"encoding":{"x":{"field":"s","type":"nominal","scale":{"paddingInner":0,"paddingOuter":0,"round":true},"axis":{"labelAngle":0,"labelAlign":"left","labelOffset":-16,"labelPadding":3,"domain":false,"ticks":false,"labelFontSize":11,"labelFontWeight":"bold","labelColor":"#111133","title":"Carbonate","titleFontSize":14,"titleFontWeight":"bold","titleColor":"#000","titleBaseline":"middle","titleX":57,"titleY":30}},"y":{"field":"a","type":"quantitative","scale":{"domain":[0,155],"reverse":true,"nice":false,"zero":false,"round":true},"axis":null},"y2":{"field":"b"},"color":{"field":"od","type":"quantitative","legend":{"values":[0,1.3]}}}},
{"width":130,"height":504,"data":{"name":"k1"},"transform":[{"fold":["D1","D2","D3","D4"],"as":["s","od"]}],"mark":{"type":"rect"},"encoding":{"x":{"field":"s","type":"nominal","scale":{"paddingInner":0,"paddingOuter":0,"round":true},"axis":{"labelAngle":0,"labelAlign":"left","labelOffset":-16,"labelPadding":3,"domain":false,"ticks":false,"labelFontSize":11,"labelFontWeight":"bold","labelColor":"#111133","title":"1M KOH","titleFontSize":14,"titleFontWeight":"bold","titleColor":"#000","titleBaseline":"middle","titleX":62,"titleY":30}},"y":{"field":"a","type":"quantitative","scale":{"domain":[0,155],"reverse":true,"nice":false,"zero":false,"round":true},"axis":null},"y2":{"field":"b"},"color":{"field":"od","type":"quantitative","legend":{"values":[0,1.3]}}}},
{"width":130,"height":504,"data":{"name":"k4"},"transform":[{"fold":["D1","D2","D3","D4"],"as":["s","od"]}],"mark":{"type":"rect"},"encoding":{"x":{"field":"s","type":"nominal","scale":{"paddingInner":0,"paddingOuter":0,"round":true},"axis":{"labelAngle":0,"labelAlign":"left","labelOffset":-16,"labelPadding":3,"domain":false,"ticks":false,"labelFontSize":11,"labelFontWeight":"bold","labelColor":"#111133","title":"4M KOH","titleFontSize":14,"titleFontWeight":"bold","titleColor":"#000","titleBaseline":"middle","titleX":61,"titleY":30}},"y":{"field":"a","type":"quantitative","scale":{"domain":[0,155],"reverse":true,"nice":false,"zero":false,"round":true},"axis":null},"y2":{"field":"b"},"color":{"field":"od","type":"quantitative","legend":{"values":[0,1.3]}}}},
{"width":109.5,"height":504,"layer":[
{"data":{"name":"mabs"},"mark":{"type":"text","align":"left","baseline":"middle","fontSize":3.6,"fontWeight":"bold","opacity":0.65,"x":-27.5},"encoding":{"y":{"field":"r","type":"quantitative","scale":{"domain":[0,155],"reverse":true,"nice":false,"zero":false},"axis":null},"text":{"field":"n"},"fill":{"field":"g","type":"nominal","legend":null,"scale":{"domain":[1,2,3,4,5,6,7,8,9,10,11,12,13,14,15,16,17,18,19,20,21,22,23,24,25,26,27,28,29,30,31,32],"range":["#e8192c","#5fa79a","#a3129c","#2f5f4c","#ef9a30","#e8352a","#0c2aa8","#d2451f","#48ceb0","#f0704a","#46cdb0","#6d0a5c","#4fb59a","#4a3f66","#4fb094","#dc7555","#0a2aa0","#6f9a35","#c8305a","#f0a848","#48c8a8","#8a8a2a","#ef5a1c","#a23a3a","#40583a","#f5a020","#1a4a8c","#c84a7c","#6ab896","#8a0a55","#2a8a5a","#000000"]}}}},
{"data":{"name":"groups"},"mark":{"type":"rect","x":-4,"x2":3},"encoding":{"y":{"field":"a","type":"quantitative"},"y2":{"field":"b"},"fill":{"field":"g","type":"nominal","legend":null}}},
{"data":{"name":"groups"},"transform":[{"filter":"datum.t"}],"mark":{"type":"text","align":"left","baseline":"middle","fontSize":7,"fontWeight":"bold","color":"#15152e","x":4.5},"encoding":{"y":{"field":"m","type":"quantitative"},"text":{"field":"t"}}},
{"data":{"name":"notes"},"mark":{"type":"text","angle":270,"align":"center","baseline":"middle","fontSize":10.5,"fontWeight":"bold","color":"#1c1c5c","x":51},"encoding":{"y":{"field":"r","type":"quantitative"},"text":{"field":"t"}}},
{"data":{"values":[{"r":120,"t":"OD (450-655 nm)"}]},"mark":{"type":"text","angle":270,"align":"center","baseline":"middle","fontSize":5,"fontWeight":"bold","color":"#111133","x":60},"encoding":{"y":{"field":"r","type":"quantitative"},"text":{"field":"t"}}}
]}
]}
